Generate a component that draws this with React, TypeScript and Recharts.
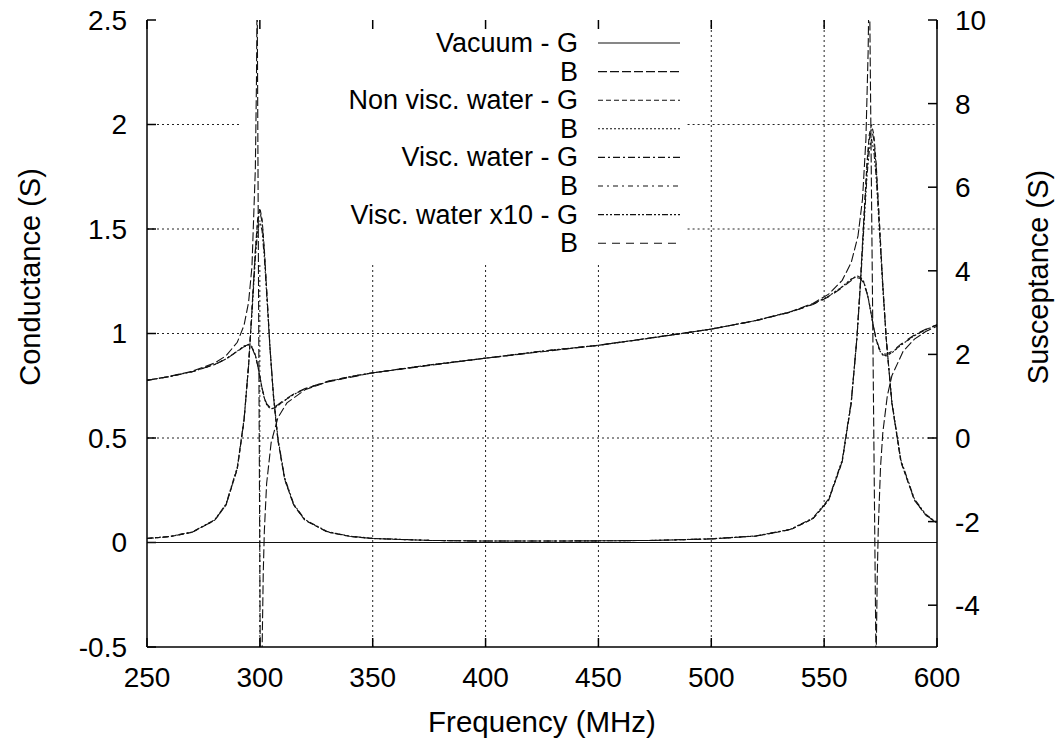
import React from 'react';
import { LineChart, Line, XAxis, YAxis, ReferenceLine } from 'recharts';

// frequency samples (MHz) for the water curves
const waterFreq = [
  250, 260, 270, 280, 285, 290, 293, 295, 296.5, 298,
  299, 300, 301, 302, 303, 304.5, 306, 308, 311, 315,
  320, 330, 340, 350, 375, 400, 425, 450, 475, 500,
  520, 535, 545, 552, 558, 562, 564.5, 566, 567.5, 569,
  570, 571, 572, 573, 574.5, 576, 577.5, 580, 584, 590,
  595, 600,
];

// conductance (S), left axis
const nonViscG = [
  0.019, 0.028, 0.049, 0.106, 0.179, 0.352, 0.584, 0.847, 1.115, 1.401,
  1.546, 1.601, 1.546, 1.401, 1.213, 0.931, 0.702, 0.489, 0.302, 0.179,
  0.106, 0.05, 0.029, 0.019, 0.01, 0.007, 0.007, 0.008, 0.01, 0.017,
  0.031, 0.061, 0.113, 0.202, 0.386, 0.667, 0.977, 1.235, 1.534, 1.82,
  1.952, 2.0, 1.952, 1.82, 1.534, 1.235, 0.977, 0.667, 0.386, 0.202,
  0.131, 0.092,
];
const viscG = [
  0.019, 0.028, 0.049, 0.107, 0.18, 0.354, 0.586, 0.846, 1.11, 1.39,
  1.532, 1.585, 1.532, 1.39, 1.208, 0.93, 0.703, 0.491, 0.303, 0.18,
  0.107, 0.05, 0.029, 0.019, 0.01, 0.007, 0.007, 0.008, 0.01, 0.017,
  0.031, 0.062, 0.114, 0.203, 0.388, 0.668, 0.975, 1.228, 1.522, 1.802,
  1.93, 1.976, 1.93, 1.802, 1.522, 1.228, 0.975, 0.668, 0.388, 0.203,
  0.132, 0.093,
];
const visc10G = [
  0.02, 0.029, 0.05, 0.109, 0.184, 0.36, 0.592, 0.845, 1.095, 1.36,
  1.49, 1.54, 1.49, 1.36, 1.19, 0.928, 0.712, 0.5, 0.31, 0.184,
  0.109, 0.052, 0.03, 0.02, 0.01, 0.007, 0.007, 0.008, 0.01, 0.018,
  0.032, 0.063, 0.117, 0.208, 0.395, 0.675, 0.975, 1.215, 1.49, 1.755,
  1.875, 1.93, 1.875, 1.755, 1.49, 1.215, 0.975, 0.675, 0.395, 0.208,
  0.135, 0.095,
];

// susceptance (S), right axis
const nonViscB = [
  1.378, 1.469, 1.586, 1.76, 1.892, 2.077, 2.201, 2.24, 2.185, 1.985,
  1.753, 1.467, 1.18, 0.949, 0.796, 0.701, 0.704, 0.771, 0.898, 1.042,
  1.175, 1.349, 1.467, 1.559, 1.747, 1.909, 2.077, 2.218, 2.404, 2.606,
  2.812, 3.014, 3.202, 3.392, 3.621, 3.805, 3.877, 3.859, 3.743, 3.48,
  3.221, 2.921, 2.621, 2.361, 2.099, 1.983, 1.965, 2.037, 2.22, 2.449,
  2.591, 2.704,
];
const viscB = [
  1.378, 1.469, 1.586, 1.76, 1.892, 2.075, 2.197, 2.234, 2.178, 1.98,
  1.75, 1.467, 1.184, 0.955, 0.803, 0.709, 0.711, 0.777, 0.901, 1.044,
  1.176, 1.35, 1.467, 1.559, 1.747, 1.909, 2.077, 2.218, 2.404, 2.606,
  2.812, 3.013, 3.2, 3.389, 3.615, 3.796, 3.866, 3.849, 3.734, 3.474,
  3.218, 2.921, 2.624, 2.367, 2.108, 1.993, 1.975, 2.045, 2.225, 2.451,
  2.592, 2.705,
];
const visc10B = [
  1.378, 1.469, 1.586, 1.758, 1.888, 2.068, 2.185, 2.218, 2.158, 1.966,
  1.742, 1.467, 1.192, 0.97, 0.822, 0.731, 0.733, 0.797, 0.917, 1.055,
  1.183, 1.354, 1.469, 1.56, 1.747, 1.909, 2.077, 2.218, 2.404, 2.605,
  2.81, 3.01, 3.193, 3.378, 3.596, 3.767, 3.834, 3.819, 3.709, 3.457,
  3.208, 2.921, 2.633, 2.383, 2.133, 2.022, 2.005, 2.071, 2.245, 2.465,
  2.601, 2.712,
];

// vacuum: lossless, G is zero and B has poles at the resonances
const vacuumGFreq = [250, 600];
const vacuumG = [0, 0];
const vacuumFreq = [
  250, 260, 270, 280, 285, 290, 293, 295, 296.5, 298,
  298.5, 298.8, 300.5, 301, 301.5, 302, 303, 305, 308, 312,
  320, 330, 350, 400, 450, 500, 520, 535, 545, 552,
  558, 562, 565, 567, 568.5, 569.5, 570, 573, 573.5, 574,
  575, 576, 578, 580, 585, 590, 595, 600,
];
const vacuumB = [
  1.38, 1.474, 1.598, 1.794, 1.966, 2.289, 2.697, 3.245, 4.1, 6.44,
  8.53, 10.88, -9.13, -5.05, -3.24, -2.21, -1.09, -0.11, 0.486, 0.84,
  1.153, 1.343, 1.559, 1.91, 2.218, 2.605, 2.814, 3.02, 3.22, 3.442,
  3.772, 4.197, 4.834, 5.716, 7.137, 9.261, 11.38, -5.53, -3.41, -2.14,
  -0.68, 0.133, 1.014, 1.488, 2.076, 2.365, 2.546, 2.676,
];

const xTicks = [250, 300, 350, 400, 450, 500, 550, 600];
const leftTicks = [-0.5, 0, 0.5, 1, 1.5, 2, 2.5];
const rightTicks = [-4, -2, 0, 2, 4, 6, 8, 10];

const toRows = (freq: number[], vals: number[]) => freq.map((f, i) => ({ f, v: vals[i] }));

const series = [
  { name: 'Vacuum - G', axis: 'left', dash: undefined, rows: toRows(vacuumGFreq, vacuumG) },
  { name: 'B', axis: 'right', dash: '9 3', rows: toRows(vacuumFreq, vacuumB) },
  { name: 'Non visc. water - G', axis: 'left', dash: '5 3', rows: toRows(waterFreq, nonViscG) },
  { name: 'B', axis: 'right', dash: '2 2', rows: toRows(waterFreq, nonViscB) },
  { name: 'Visc. water - G', axis: 'left', dash: '7 3 2 3', rows: toRows(waterFreq, viscG) },
  { name: 'B', axis: 'right', dash: '5 4 2 4', rows: toRows(waterFreq, viscB) },
  { name: 'Visc. water x10 - G', axis: 'left', dash: '6 2 2 2 2 2', rows: toRows(waterFreq, visc10G) },
  { name: 'B', axis: 'right', dash: '8 6', rows: toRows(waterFreq, visc10B) },
];

const FONT = '"Liberation Sans", Arial, Helvetica, sans-serif';
const W = 1064;
const H = 745;
const gridStyle = { stroke: '#222', strokeWidth: 1, strokeDasharray: '2 3' };
const axisStroke = { stroke: '#000', strokeWidth: 1.5 };
const tickMark = { stroke: '#000', strokeWidth: 1.5 };
const tickFont = { fontSize: 28, fill: '#000', fontFamily: FONT };

export default function App() {
  return (
    <div style={{ position: 'absolute', left: 0, top: 0, width: W, height: H, background: '#fff' }}>
      <LineChart width={W} height={H} margin={{ top: 20, right: 0, bottom: 0, left: 0 }}>
        <XAxis
          xAxisId="bottom"
          dataKey="f"
          type="number"
          domain={[250, 600]}
          ticks={xTicks}
          height={98}
          tickSize={-9}
          tickMargin={29}
          tickLine={false}
          axisLine={axisStroke}
          tick={tickFont}
          label={{ value: 'Frequency (MHz)', position: 'insideBottom', offset: 13, style: { fontSize: 29.5, fill: '#000', fontFamily: FONT } }}
        />
        <XAxis
          xAxisId="top"
          orientation="top"
          dataKey="f"
          type="number"
          domain={[250, 600]}
          ticks={xTicks}
          height={0}
          tickLine={false}
          axisLine={axisStroke}
          tick={false}
        />
        <YAxis
          yAxisId="left"
          type="number"
          domain={[-0.5, 2.5]}
          ticks={leftTicks}
          width={147}
          tickSize={-9}
          tickMargin={29}
          tickLine={false}
          axisLine={axisStroke}
          tick={tickFont}
          allowDataOverflow
          label={{
            content: () => (
              <text x={32} y={277} transform="rotate(-90 32 277)" textAnchor="middle" dominantBaseline="middle" fontSize={29} fontFamily={FONT} fill="#000">
                Conductance (S)
              </text>
            ),
          }}
        />
        <YAxis
          yAxisId="right"
          orientation="right"
          type="number"
          domain={[-5, 10]}
          ticks={rightTicks}
          width={127}
          tickSize={-9}
          tickMargin={27}
          tickLine={false}
          axisLine={axisStroke}
          tick={tickFont}
          allowDataOverflow
          label={{
            content: () => (
              <text x={1040} y={277} transform="rotate(-90 1040 277)" textAnchor="middle" dominantBaseline="middle" fontSize={29} fontFamily={FONT} fill="#000">
                Susceptance (S)
              </text>
            ),
          }}
        />

        {/* grid, broken where the key sits */}
        <ReferenceLine xAxisId="bottom" yAxisId="left" segment={[{ x: 250, y: 0.5 }, { x: 600, y: 0.5 }]} {...gridStyle} />
        <ReferenceLine xAxisId="bottom" yAxisId="left" segment={[{ x: 250, y: 1 }, { x: 600, y: 1 }]} {...gridStyle} />
        <ReferenceLine xAxisId="bottom" yAxisId="left" segment={[{ x: 250, y: 1.5 }, { x: 291, y: 1.5 }]} {...gridStyle} />
        <ReferenceLine xAxisId="bottom" yAxisId="left" segment={[{ x: 489.5, y: 1.5 }, { x: 600, y: 1.5 }]} {...gridStyle} />
        <ReferenceLine xAxisId="bottom" yAxisId="left" segment={[{ x: 250, y: 2 }, { x: 291, y: 2 }]} {...gridStyle} />
        <ReferenceLine xAxisId="bottom" yAxisId="left" segment={[{ x: 489.5, y: 2 }, { x: 600, y: 2 }]} {...gridStyle} />
        {[300, 350, 400, 450].map((x) => (
          <ReferenceLine key={'g' + x} xAxisId="bottom" yAxisId="left" segment={[{ x, y: -0.5 }, { x, y: 1.34 }]} {...gridStyle} />
        ))}
        {[500, 550].map((x) => (
          <ReferenceLine key={'g' + x} xAxisId="bottom" yAxisId="left" segment={[{ x, y: -0.5 }, { x, y: 2.5 }]} {...gridStyle} />
        ))}

        {/* inward tick marks (gnuplot style, mirrored on top) */}
        {xTicks.map((x) => (
          <ReferenceLine key={'tb' + x} xAxisId="bottom" yAxisId="left" segment={[{ x, y: -0.5 }, { x, y: -0.457 }]} {...tickMark} />
        ))}
        {xTicks.map((x) => (
          <ReferenceLine key={'tt' + x} xAxisId="bottom" yAxisId="left" segment={[{ x, y: 2.5 }, { x, y: 2.457 }]} {...tickMark} />
        ))}
        {leftTicks.map((y) => (
          <ReferenceLine key={'tl' + y} xAxisId="bottom" yAxisId="left" segment={[{ x: 250, y }, { x: 254, y }]} {...tickMark} />
        ))}
        {rightTicks.map((y) => (
          <ReferenceLine key={'tr' + y} xAxisId="bottom" yAxisId="right" segment={[{ x: 596, y }, { x: 600, y }]} {...tickMark} />
        ))}

        {series.map((s, i) => (
          <Line
            key={i}
            data={s.rows}
            dataKey="v"
            name={s.name}
            xAxisId="bottom"
            yAxisId={s.axis}
            type="linear"
            stroke="#111"
            strokeWidth={1.1}
            strokeDasharray={s.dash}
            dot={false}
            activeDot={false}
            isAnimationActive={false}
          />
        ))}
      </LineChart>

      {/* key */}
      <svg width={W} height={H} style={{ position: 'absolute', left: 0, top: 0, pointerEvents: 'none' }}>
        {series.map((s, i) => {
          const y = 43 + i * 28.6;
          return (
            <g key={i}>
              <text x={578} y={y} textAnchor="end" dominantBaseline="central" fontSize={27} fontFamily={FONT} fill="#000">
                {s.name}
              </text>
              <line x1={598} x2={680} y1={y} y2={y} stroke="#111" strokeWidth={1.1} strokeDasharray={s.dash} />
            </g>
          );
        })}
      </svg>
    </div>
  );
}
